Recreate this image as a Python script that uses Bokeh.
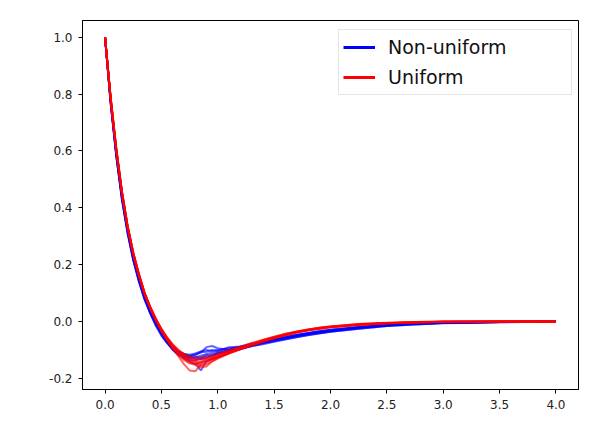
from bokeh.plotting import figure
from bokeh.models import Range1d, FixedTicker, PrintfTickFormatter, Legend, LegendItem, ColumnDataSource
from bokeh.embed import file_html
from bokeh.resources import INLINE

lag = [0, 0.05, 0.1, 0.15, 0.2, 0.25, 0.3, 0.35, 0.4, 0.45, 0.5, 0.55, 0.6, 0.65, 0.7, 0.75,
       0.8, 0.85, 0.9, 0.95, 1.0, 1.1, 1.2, 1.3, 1.4, 1.5, 1.6, 1.7, 1.8, 1.9, 2.0, 2.25,
       2.5, 2.75, 3.0, 3.5, 4.0]

nonuniform_1 = [1.0, .77, .585, .43, .31, .215, .14, .08, .035, -.005, -.04, -.066, -.09, -.106, -.113, -.117, -.112, -.105, -.1, -.104, -.1, -.094, -.09, -.08, -.074, -.066, -.058, -.05, -.043, -.037, -.032, -.021, -.013, -.008, -.004, -.002, 0]
nonuniform_2 = [1.0, .775, .59, .44, .32, .225, .15, .085, .03, -.015, -.05, -.075, -.095, -.108, -.115, -.12, -.118, -.108, -.09, -.086, -.094, -.1, -.088, -.084, -.075, -.068, -.06, -.052, -.046, -.04, -.034, -.023, -.014, -.009, -.005, -.002, 0]
nonuniform_3 = [1.0, .78, .6, .445, .325, .23, .155, .09, .04, 0, -.038, -.068, -.095, -.115, -.13, -.14, -.148, -.172, -.14, -.132, -.125, -.11, -.097, -.085, -.074, -.064, -.055, -.047, -.04, -.034, -.029, -.019, -.011, -.006, -.003, -.001, 0]
nonuniform_4 = [1.0, .765, .58, .43, .315, .22, .145, .08, .03, -.01, -.045, -.075, -.1, -.118, -.125, -.128, -.124, -.126, -.118, -.12, -.11, -.104, -.098, -.086, -.08, -.071, -.063, -.055, -.048, -.042, -.036, -.025, -.016, -.01, -.005, -.002, 0]
nonuniform_5 = [1.0, .78, .595, .445, .325, .228, .152, .088, .038, -.004, -.04, -.07, -.093, -.11, -.12, -.122, -.116, -.108, -.106, -.1, -.103, -.09, -.088, -.077, -.07, -.061, -.053, -.046, -.04, -.034, -.029, -.019, -.012, -.007, -.004, -.001, 0]
nonuniform_6 = [1.0, .772, .588, .436, .318, .222, .148, .084, .034, -.006, -.042, -.072, -.098, -.115, -.126, -.133, -.136, -.13, -.124, -.116, -.113, -.1, -.092, -.082, -.07, -.063, -.056, -.049, -.042, -.036, -.031, -.021, -.013, -.008, -.004, -.002, 0]
nonuniform_7 = [1.0, .776, .592, .44, .32, .225, .15, .09, .04, 0, -.036, -.064, -.088, -.105, -.115, -.124, -.127, -.12, -.114, -.11, -.106, -.098, -.09, -.081, -.072, -.064, -.057, -.05, -.044, -.038, -.033, -.022, -.014, -.008, -.004, -.002, 0]
nonuniform_8 = [1.0, .77, .583, .432, .313, .218, .143, .078, .03, -.01, -.045, -.073, -.097, -.112, -.12, -.126, -.13, -.132, -.128, -.122, -.112, -.106, -.094, -.087, -.077, -.069, -.061, -.054, -.047, -.041, -.036, -.025, -.016, -.01, -.006, -.003, 0]

uniform_1 = [1.0, .785, .605, .455, .335, .24, .165, .1, .05, .008, -.028, -.058, -.085, -.107, -.125, -.138, -.148, -.146, -.14, -.13, -.122, -.108, -.092, -.08, -.066, -.055, -.045, -.036, -.028, -.022, -.017, -.009, -.004, -.002, -.001, 0, 0]
uniform_2 = [1.0, .782, .602, .452, .332, .238, .163, .098, .048, .005, -.032, -.064, -.093, -.122, -.15, -.172, -.175, -.152, -.142, -.132, -.126, -.11, -.096, -.081, -.07, -.057, -.047, -.038, -.03, -.023, -.018, -.01, -.005, -.002, -.001, 0, 0]
uniform_3 = [1.0, .788, .608, .458, .338, .243, .168, .102, .052, .01, -.026, -.057, -.083, -.103, -.12, -.133, -.138, -.142, -.134, -.13, -.12, -.106, -.09, -.079, -.065, -.054, -.044, -.036, -.029, -.023, -.018, -.01, -.005, -.002, -.001, 0, 0]
uniform_4 = [1.0, .78, .6, .45, .33, .236, .16, .096, .046, .004, -.034, -.066, -.095, -.118, -.135, -.147, -.152, -.16, -.158, -.14, -.128, -.11, -.094, -.082, -.067, -.056, -.046, -.037, -.03, -.024, -.019, -.011, -.006, -.003, -.001, 0, 0]
uniform_5 = [1.0, .786, .606, .456, .336, .242, .167, .101, .051, .009, -.027, -.057, -.082, -.1, -.114, -.124, -.13, -.126, -.124, -.12, -.114, -.1, -.089, -.075, -.065, -.053, -.043, -.035, -.028, -.022, -.017, -.009, -.005, -.002, -.001, 0, 0]
uniform_6 = [1.0, .783, .603, .453, .333, .239, .164, .099, .049, .006, -.031, -.062, -.09, -.112, -.13, -.144, -.15, -.143, -.137, -.132, -.126, -.112, -.097, -.083, -.07, -.058, -.048, -.039, -.031, -.025, -.019, -.011, -.006, -.003, -.001, 0, 0]
uniform_7 = [1.0, .784, .604, .454, .334, .24, .165, .1, .05, .007, -.03, -.06, -.087, -.11, -.128, -.136, -.14, -.155, -.15, -.14, -.13, -.113, -.098, -.084, -.071, -.059, -.048, -.039, -.031, -.025, -.02, -.011, -.006, -.003, -.001, 0, 0]
uniform_8 = [1.0, .787, .607, .457, .337, .243, .168, .103, .053, .01, -.025, -.055, -.08, -.1, -.116, -.126, -.13, -.134, -.13, -.124, -.118, -.105, -.093, -.08, -.068, -.057, -.047, -.038, -.031, -.025, -.02, -.012, -.006, -.003, -.001, 0, 0]

nonuniform = [nonuniform_1, nonuniform_2, nonuniform_3, nonuniform_4,
              nonuniform_5, nonuniform_6, nonuniform_7, nonuniform_8]
uniform = [uniform_1, uniform_2, uniform_3, uniform_4,
           uniform_5, uniform_6, uniform_7, uniform_8]

x_ticks = [0.0, 0.5, 1.0, 1.5, 2.0, 2.5, 3.0, 3.5, 4.0]
y_ticks = [-0.2, 0.0, 0.2, 0.4, 0.6, 0.8, 1.0]
legend_labels = ["Non-uniform", "Uniform"]

p = figure(frame_width=496, frame_height=369,
           min_border_left=82, min_border_right=15, min_border_top=20, min_border_bottom=33,
           x_range=Range1d(-0.2, 4.2), y_range=Range1d(-0.239, 1.059),
           output_backend="svg", toolbar_location=None)

p.background_fill_color = "white"
p.border_fill_color = "white"
p.outline_line_color = "black"
p.outline_line_width = 1
p.grid.visible = False

for ax in (p.xaxis[0], p.yaxis[0]):
    ax.axis_line_color = "black"
    ax.major_tick_line_color = "black"
    ax.major_tick_out = 4
    ax.major_tick_in = 0
    ax.minor_tick_line_color = None
    ax.major_label_text_font = "DejaVu Sans"
    ax.major_label_text_font_size = "12px"
    ax.major_label_text_color = "#222222"
    ax.major_label_standoff = 6
    ax.formatter = PrintfTickFormatter(format="%.1f")

p.xaxis[0].ticker = FixedTicker(ticks=x_ticks)
p.yaxis[0].ticker = FixedTicker(ticks=y_ticks)

for s in nonuniform:
    p.line(lag, s, line_color="#0000ff", line_alpha=0.6, line_width=2)
for s in uniform:
    p.line(lag, s, line_color="#ff0000", line_alpha=0.6, line_width=2)

# legend-only renderers placed outside the visible range
off_b = ColumnDataSource(dict(x=[10, 11], y=[10, 10]))
off_r = ColumnDataSource(dict(x=[10, 11], y=[10, 10]))
lb = p.line("x", "y", source=off_b, line_color="#0000ff", line_width=3)
lr = p.line("x", "y", source=off_r, line_color="#ff0000", line_width=3)

legend = Legend(items=[LegendItem(label=legend_labels[0], renderers=[lb]),
                       LegendItem(label=legend_labels[1], renderers=[lr])],
                location=(256, 294))
legend.label_text_font = "DejaVu Sans"
legend.label_text_font_size = "19px"
legend.label_text_color = "#111111"
legend.glyph_width = 32
legend.glyph_height = 26
legend.label_height = 26
legend.label_width = 179
legend.label_standoff = 13
legend.padding = 4
legend.spacing = 4
legend.margin = 0
legend.border_line_color = "#cccccc"
legend.border_line_width = 1
legend.background_fill_color = "white"
legend.background_fill_alpha = 0.8
p.add_layout(legend, "center")

open("out.html", "w").write(file_html(p, INLINE))
